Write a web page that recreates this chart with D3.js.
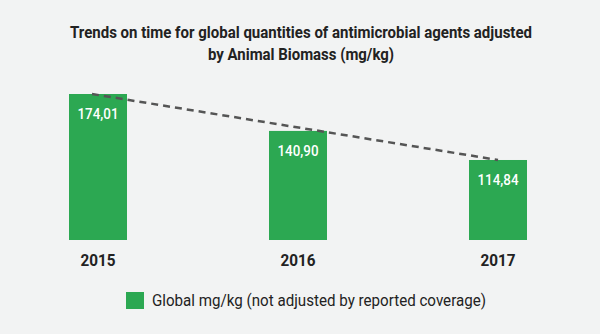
<!DOCTYPE html>
<html><head><meta charset="utf-8">
<script src="https://cdn.jsdelivr.net/npm/d3@7"></script>
<style>html,body{margin:0;padding:0;background:#f2f3f3;}svg{display:block;}</style>
</head><body><svg id="c" width="600" height="334"></svg>
<script>
const years = ["2015", "2016", "2017"];
const values = [174.01, 140.90, 114.84];
const valueLabels = ["174,01", "140,90", "114,84"];
const titleLines = ["Trends on time for global quantities of antimicrobial agents adjusted", "by Animal Biomass (mg/kg)"];
const legendLabel = "Global mg/kg (not adjusted by reported coverage)";

const svg = d3.select("#c");
svg.append("rect").attr("width",600).attr("height",334).attr("fill","#f2f3f3");

const x = d3.scaleBand().domain(years).range([69, 527]).paddingInner(0.71).paddingOuter(0);
const y = d3.scaleLinear().domain([43.1, 174.01]).range([240, 94]);

// title
const tl = [[38, 462], [60, 186]];
titleLines.forEach((t,i)=>{
  svg.append("text").attr("x",301).attr("y",tl[i][0]).attr("text-anchor","middle")
    .attr("font-family","Roboto").attr("font-weight","bold").attr("font-size",17)
    .attr("fill","#222").attr("textLength",tl[i][1]).attr("lengthAdjust","spacingAndGlyphs").text(t);
});

// bars
svg.selectAll("rect.bar").data(values).enter().append("rect").attr("class","bar")
  .attr("x",(d,i)=>x(years[i])).attr("width",x.bandwidth())
  .attr("y",d=>y(d)).attr("height",d=>240-y(d)).attr("fill","#2ca852");

// value labels
svg.selectAll("text.val").data(values).enter().append("text").attr("class","val")
  .attr("x",(d,i)=>x(years[i])+x.bandwidth()/2).attr("y",d=>y(d)+25)
  .attr("text-anchor","middle").attr("font-family","Roboto").attr("font-weight",500)
  .attr("font-size",15).attr("fill","#fff").attr("textLength",41).attr("lengthAdjust","spacingAndGlyphs")
  .text((d,i)=>valueLabels[i]);

// trend line
const n = values.length;
svg.append("line")
  .attr("x1",x(years[0])+x.bandwidth()/2-6).attr("y1",y(values[0]))
  .attr("x2",x(years[n-1])+x.bandwidth()/2).attr("y2",y(values[n-1]))
  .attr("stroke","#555").attr("stroke-width",2.5).attr("stroke-dasharray","7,5");

// x axis labels
const xa = svg.append("g").attr("transform","translate(0,240)").call(d3.axisBottom(x).tickSize(0).tickPadding(14));
xa.select(".domain").remove();
xa.selectAll("text").attr("font-family","Roboto").attr("font-weight","bold").attr("font-size",17)
  .attr("fill","#222").attr("dy","0.71em").attr("y",14).attr("textLength",35).attr("lengthAdjust","spacingAndGlyphs");

// legend
svg.append("rect").attr("x",126).attr("y",292).attr("width",18).attr("height",17).attr("fill","#2ca852");
svg.append("text").attr("x",152).attr("y",306).attr("font-family","Roboto").attr("font-size",16)
  .attr("fill","#222").attr("textLength",334).attr("lengthAdjust","spacingAndGlyphs").text(legendLabel);
</script></body></html>
